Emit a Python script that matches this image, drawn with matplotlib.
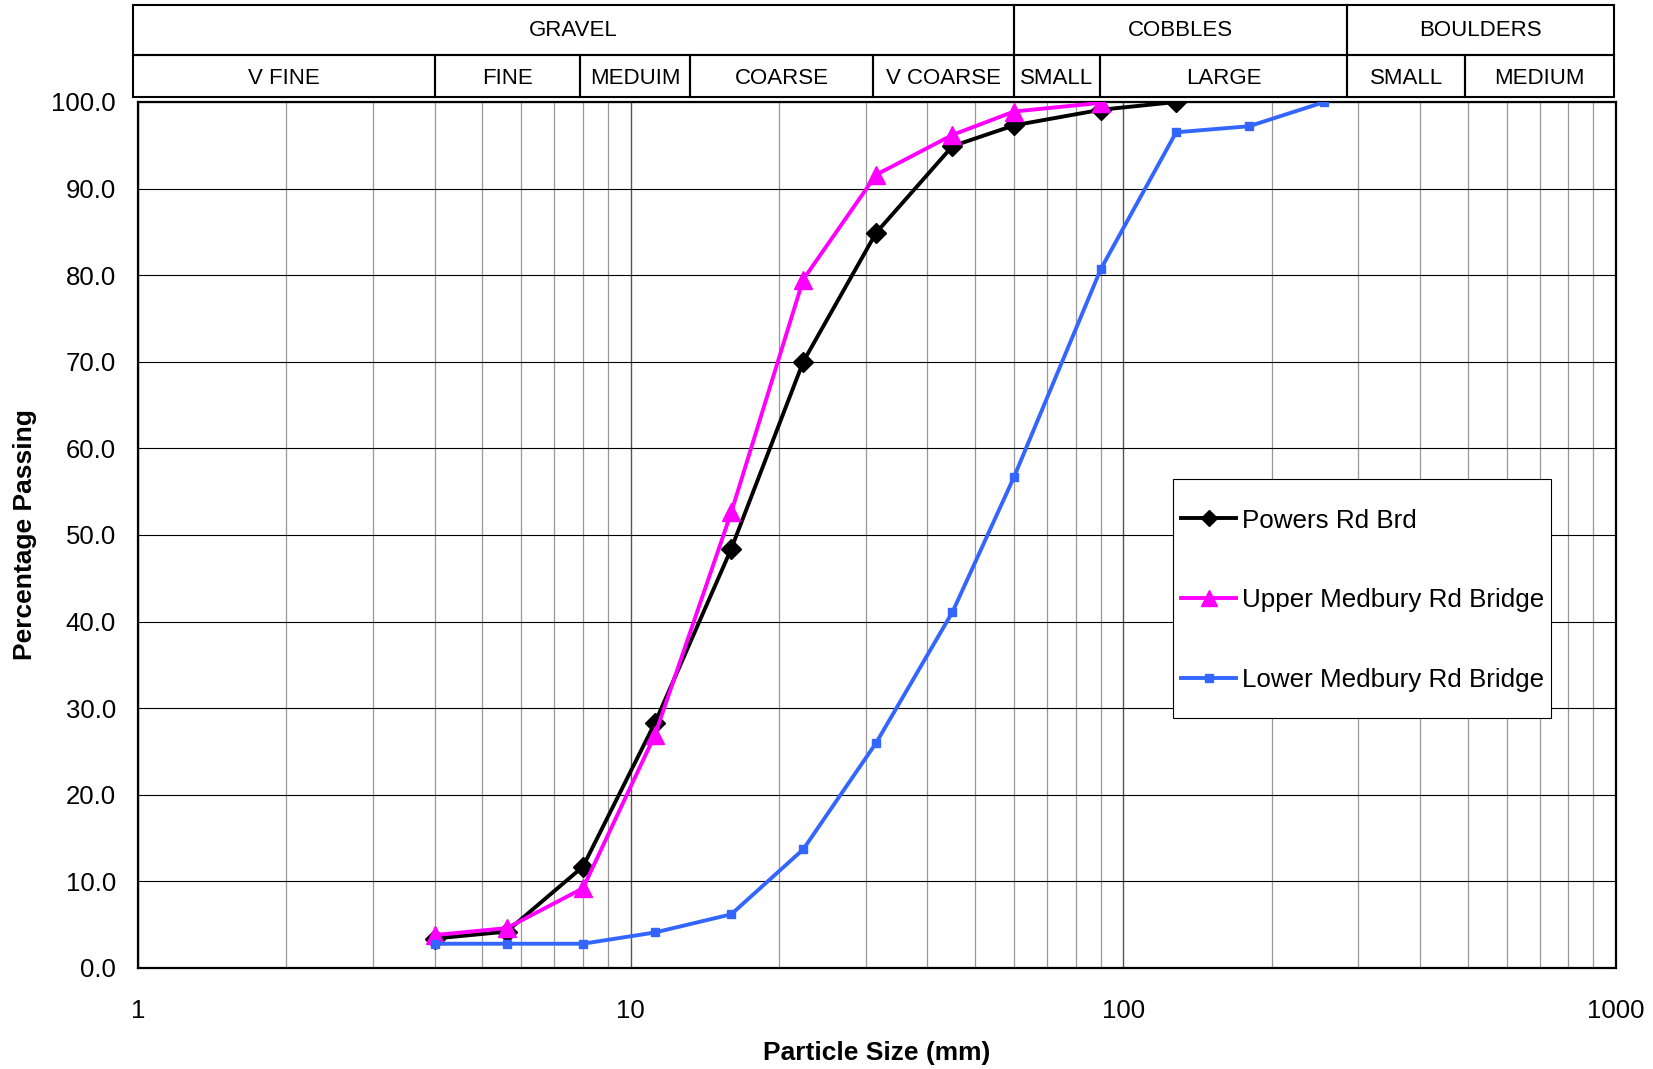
#! /usr/bin/env python3

import matplotlib
matplotlib.use("Agg")
import matplotlib.pyplot as plt
from matplotlib.patches import Rectangle
from matplotlib.ticker import FixedLocator, LogLocator, NullFormatter

plt.rcParams["font.family"] = ["Liberation Sans", "DejaVu Sans"]

# sieve sizes (mm) and percentage passing
sizes = [4, 5.6, 8, 11.2, 16, 22.4, 31.5, 45, 60, 90, 128, 180, 256]
powers = [3.4, 4.2, 11.7, 28.3, 48.4, 70.0, 84.9, 94.9, 97.3, 99.1, 100.0]
upper = [3.8, 4.6, 9.2, 26.9, 52.6, 79.5, 91.6, 96.2, 98.9, 99.9]
lower = [2.8, 2.8, 2.8, 4.1, 6.2, 13.7, 26.0, 41.1, 56.7, 80.7, 96.5, 97.2, 100.0]

# size class table drawn above the chart
main_classes = ["GRAVEL", "COBBLES", "BOULDERS"]
main_bounds = [0.975, 60, 285, 990]
sub_classes = ["V FINE", "FINE", "MEDUIM", "COARSE", "V COARSE",
               "SMALL", "LARGE", "SMALL", "MEDIUM"]
sub_bounds = [0.975, 4, 7.9, 13.2, 31, 60, 89.5, 285, 494, 990]

fig = plt.figure(figsize=(16.53, 10.69), dpi=100)
ax = fig.add_axes([0.0835, 0.0945, 0.8941, 0.8101])

ax.plot(sizes[:len(powers)], powers, color="black", lw=2.8, marker="D",
        ms=10, label="Powers Rd Brd", zorder=3)
ax.plot(sizes[:len(upper)], upper, color="#FF00FF", lw=2.8, marker="^",
        ms=13.5, label="Upper Medbury Rd Bridge", zorder=4)
ax.plot(sizes[:len(lower)], lower, color="#3366FF", lw=2.8, marker="s",
        ms=6, label="Lower Medbury Rd Bridge", zorder=5)

ax.set_xscale("log")
ax.set_xlim(1, 1000)
ax.set_ylim(0, 100)
ax.xaxis.set_major_locator(FixedLocator([1, 10, 100, 1000]))
ax.set_xticklabels(["1", "10", "100", "1000"])
ax.xaxis.set_minor_locator(LogLocator(base=10, subs=range(2, 10)))
ax.xaxis.set_minor_formatter(NullFormatter())
ax.set_yticks(range(0, 101, 10))
ax.set_yticklabels([f"{v:.1f}" for v in range(0, 101, 10)])
ax.tick_params(which="both", length=0, labelsize=18.5)
ax.tick_params(axis="x", pad=22)
ax.tick_params(axis="y", pad=16)

ax.grid(True, axis="y", color="black", lw=0.8)
ax.grid(True, axis="x", which="major", color="#555555", lw=1.0)
ax.grid(True, axis="x", which="minor", color="#999999", lw=0.9)
ax.set_axisbelow(True)
for s in ax.spines.values():
    s.set_linewidth(1.6)

ax.set_xlabel("Particle Size (mm)", fontsize=19, fontweight="bold", labelpad=13)
ax.set_ylabel("Percentage Passing", fontsize=19, fontweight="bold", labelpad=10)

# legend with its own frame
ax.add_patch(Rectangle((0.700, 0.2887), 0.256, 0.276, transform=ax.transAxes,
                       facecolor="white", edgecolor="black", lw=0.8, zorder=6))
leg = ax.legend(loc="center", bbox_to_anchor=(0.8288, 0.4245), frameon=False,
                fontsize=18.7, handlelength=2.1, handletextpad=0.25,
                labelspacing=2.15, markerscale=0.85)
leg.set_zorder(7)

# header table
tr = ax.get_xaxis_transform()
y0, y1, y2 = 1.0058, 1.0545, 1.1117
for name, lo, hi in zip(main_classes, main_bounds[:-1], main_bounds[1:]):
    ax.add_patch(Rectangle((lo, y1), hi - lo, y2 - y1, transform=tr,
                           fill=False, edgecolor="black", lw=1.5, clip_on=False))
    ax.text((lo * hi) ** 0.5, (y1 + y2) / 2, name, transform=tr,
            ha="center", va="center", fontsize=16)
for name, lo, hi in zip(sub_classes, sub_bounds[:-1], sub_bounds[1:]):
    ax.add_patch(Rectangle((lo, y0), hi - lo, y1 - y0, transform=tr,
                           fill=False, edgecolor="black", lw=1.5, clip_on=False))
    ax.text((lo * hi) ** 0.5, (y0 + y1) / 2 - 0.003, name, transform=tr,
            ha="center", va="center", fontsize=16)

fig.savefig("out.png", dpi=100)
